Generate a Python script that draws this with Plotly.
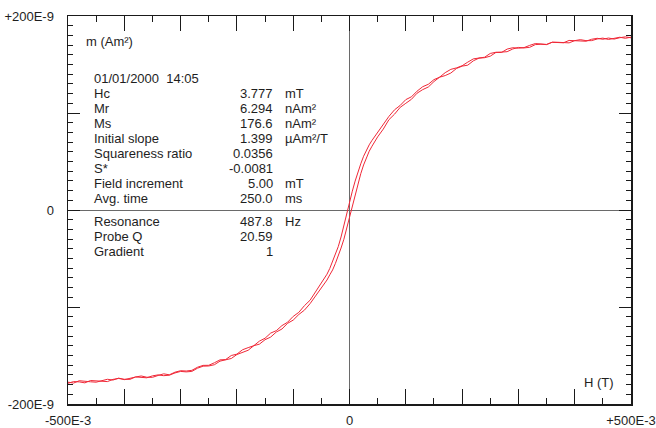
import plotly.graph_objects as go

# Applied field (T), sweep grid
H_FIELD = [
    -0.50, -0.49, -0.48, -0.47, -0.46, -0.45, -0.44, -0.43, -0.42, -0.41,
    -0.40, -0.39, -0.38, -0.37, -0.36, -0.35, -0.34, -0.33, -0.32, -0.31,
    -0.30, -0.29, -0.28, -0.27, -0.26, -0.25, -0.24, -0.23, -0.22, -0.21,
    -0.20, -0.19, -0.18, -0.17, -0.16, -0.15, -0.14, -0.13, -0.12, -0.11,
    -0.10, -0.09, -0.08, -0.07, -0.06,
    -0.050, -0.045, -0.040, -0.035, -0.030, -0.025, -0.020, -0.015, -0.010, -0.005,
    0.000, 0.005, 0.010, 0.015, 0.020, 0.025, 0.030, 0.035, 0.040, 0.045, 0.050,
    0.06, 0.07, 0.08, 0.09, 0.10,
    0.11, 0.12, 0.13, 0.14, 0.15, 0.16, 0.17, 0.18, 0.19, 0.20,
    0.21, 0.22, 0.23, 0.24, 0.25, 0.26, 0.27, 0.28, 0.29, 0.30,
    0.31, 0.32, 0.33, 0.34, 0.35, 0.36, 0.37, 0.38, 0.39, 0.40,
    0.41, 0.42, 0.43, 0.44, 0.45, 0.46, 0.47, 0.48, 0.49, 0.50,
]

# Moment on the descending branch (nAm^2), same order as H_FIELD
M_DESC = [
    -177.5, -178.4, -176.0, -176.5, -177.1, -177.5, -175.7, -174.5, -175.3, -173.3,
    -174.9, -173.6, -172.2, -171.1, -172.4, -172.5, -170.6, -168.9, -169.9, -167.2,
    -165.7, -166.0, -165.3, -162.1, -160.2, -160.1, -157.5, -154.5, -154.2, -150.0,
    -148.6, -144.1, -141.9, -139.9, -135.2, -132.2, -126.9, -124.4, -119.2, -115.7,
    -109.7, -105.5, -98.6, -93.0, -83.9,
    -75.8, -70.8, -66.2, -60.2, -54.0, -46.0, -37.8, -27.8, -17.0, -4.6,
    7.1, 19.4, 29.8, 39.6, 47.6, 55.4, 61.4, 67.2, 71.8, 76.6, 80.2,
    88.6, 96.5, 103.3, 107.8, 113.8,
    116.7, 122.5, 127.1, 129.6, 134.4, 136.9, 141.6, 145.0, 146.5, 148.7,
    152.4, 155.8, 156.4, 157.5, 161.4, 162.6, 162.4, 165.9, 167.3, 166.8,
    167.4, 169.7, 171.6, 170.9, 170.7, 172.9, 172.8, 172.4, 174.8, 174.7,
    174.1, 174.0, 176.0, 177.0, 176.0, 177.3, 176.2, 177.6, 178.5, 177.5,
]

# Moment on the ascending branch (nAm^2), same order as H_FIELD
M_ASC = [
    -178.6, -176.9, -177.2, -178.2, -175.8, -176.0, -176.8, -176.9, -174.6, -173.7,
    -174.5, -174.6, -172.1, -172.5, -173.0, -171.0, -170.0, -170.8, -170.3, -168.0,
    -166.4, -166.9, -166.4, -163.1, -161.0, -160.8, -159.5, -155.8, -154.5, -153.1,
    -149.0, -146.6, -144.6, -139.9, -138.3, -133.7, -131.0, -125.8, -122.7, -116.8,
    -113.5, -107.7, -103.2, -96.5, -88.4,
    -80.6, -76.2, -72.2, -66.8, -61.8, -55.0, -48.0, -39.2, -30.2, -19.0,
    -7.3, 4.9, 16.6, 28.2, 37.4, 46.4, 53.6, 60.6, 65.8, 71.2, 75.4,
    83.4, 93.1, 98.8, 105.8, 110.0,
    114.1, 120.4, 124.1, 126.8, 132.4, 136.9, 138.6, 141.2, 145.9, 148.3,
    149.3, 153.8, 156.6, 157.0, 158.6, 162.4, 163.1, 163.2, 166.0, 167.6,
    167.1, 167.7, 170.5, 170.9, 170.5, 173.0, 172.9, 172.3, 172.3, 174.6,
    175.6, 174.6, 174.6, 176.3, 177.2, 175.8, 177.2, 178.1, 177.0, 178.2,
]

X_TICKS = [-0.5, -0.4, -0.3, -0.2, -0.1, 0.0, 0.1, 0.2, 0.3, 0.4, 0.5]
X_TICK_TEXT = ["-500E-3", "", "", "", "", "0", "", "", "", "", "+500E-3"]
Y_TICKS = [-200e-9, -100e-9, 0.0, 100e-9, 200e-9]
Y_TICK_TEXT = ["-200E-9", "", "0", "", "+200E-9"]

INFO_LABELS = ["Hc", "Mr", "Ms", "Initial slope", "Squareness ratio", "S*",
               "Field increment", "Avg. time", "Resonance", "Probe Q", "Gradient"]
INFO_VALUES = ["3.777", "6.294", "176.6", "1.399", "0.0356", "-0.0081",
               "5.00", "250.0", "487.8", "20.59", "1"]
INFO_UNITS = ["mT", "nAm\u00b2", "nAm\u00b2", "\u00b5Am\u00b2/T", "", "",
              "mT", "ms", "Hz", "", ""]
DATE_TEXT = "01/01/2000\u00a0\u00a014:05"

# scale nAm^2 -> Am^2 and build the closed loop (descending then ascending)
x_loop = list(reversed(H_FIELD)) + H_FIELD
y_loop = [v * 1e-9 for v in reversed(M_DESC)] + [v * 1e-9 for v in M_ASC]

FONT = "Liberation Sans, Arial, sans-serif"
TXT = "#1e1e1e"
FS = 13

fig = go.Figure()
fig.add_trace(go.Scatter(
    x=x_loop, y=y_loop, mode="lines",
    line=dict(color="rgb(240,40,55)", width=1),
    hoverinfo="skip", showlegend=False,
))

# plot area in pixels: x 68..631, y 16..404
L, R, T, B = 68, 631, 16, 404
W, Hh = R - L, B - T


def px(xp):
    return (xp - L) / W


def py(yp):
    return (B - yp) / Hh


ann = []
ann.append(dict(text="m (Am\u00b2)", x=px(84), y=py(42), xanchor="left"))
ann.append(dict(text="H (T)", x=px(582), y=py(382), xanchor="left"))
ann.append(dict(text=DATE_TEXT, x=px(92), y=py(78), xanchor="left"))
row_y = [93.2, 108.4, 123.6, 138.8, 153.6, 168.6, 183.6, 198.6, 221.6, 236.4, 251.4]
for lab, val, unit, yy in zip(INFO_LABELS, INFO_VALUES, INFO_UNITS, row_y):
    ann.append(dict(text=lab, x=px(92), y=py(yy), xanchor="left"))
    ann.append(dict(text=val, x=px(274.5), y=py(yy), xanchor="right"))
    if unit:
        ann.append(dict(text=unit, x=px(283), y=py(yy), xanchor="left"))
for a in ann:
    a.update(xref="paper", yref="paper", yanchor="middle", showarrow=False,
             font=dict(family=FONT, size=FS, color=TXT))

axis_common = dict(
    showgrid=False, showline=True, linecolor="#1a1a1a", linewidth=1.5,
    mirror="ticks", ticks="inside", tickcolor="#1a1a1a", tickwidth=1,
    zeroline=True, zerolinecolor="#6a6a6a", zerolinewidth=1,
    tickfont=dict(family=FONT, size=FS, color=TXT),
    automargin=False,
)

fig.update_layout(
    width=656, height=428,
    margin=dict(l=L, r=656 - R, t=T, b=428 - B, pad=0),
    paper_bgcolor="white", plot_bgcolor="white",
    xaxis=dict(range=[-0.5, 0.5], tickmode="array", tickvals=X_TICKS,
               ticktext=X_TICK_TEXT, ticklen=15, ticklabelstandoff=4,
               minor=dict(dtick=0.05, tick0=0, ticks="inside", ticklen=6,
                          tickcolor="#1a1a1a", showgrid=False),
               **axis_common),
    yaxis=dict(range=[-200e-9, 200e-9], tickmode="array", tickvals=Y_TICKS,
               ticktext=Y_TICK_TEXT, ticklen=12, ticklabelstandoff=10,
               ticklabelposition="outside",
               minor=dict(dtick=10e-9, tick0=0, ticks="inside", ticklen=5,
                          tickcolor="#1a1a1a", showgrid=False),
               **axis_common),
    annotations=ann,
    showlegend=False,
)

fig.write_html(
    "out.html",
    config={"displayModeBar": False, "staticPlot": True},
    post_script="document.body.style.margin='0px';document.body.style.overflow='hidden';",
)
